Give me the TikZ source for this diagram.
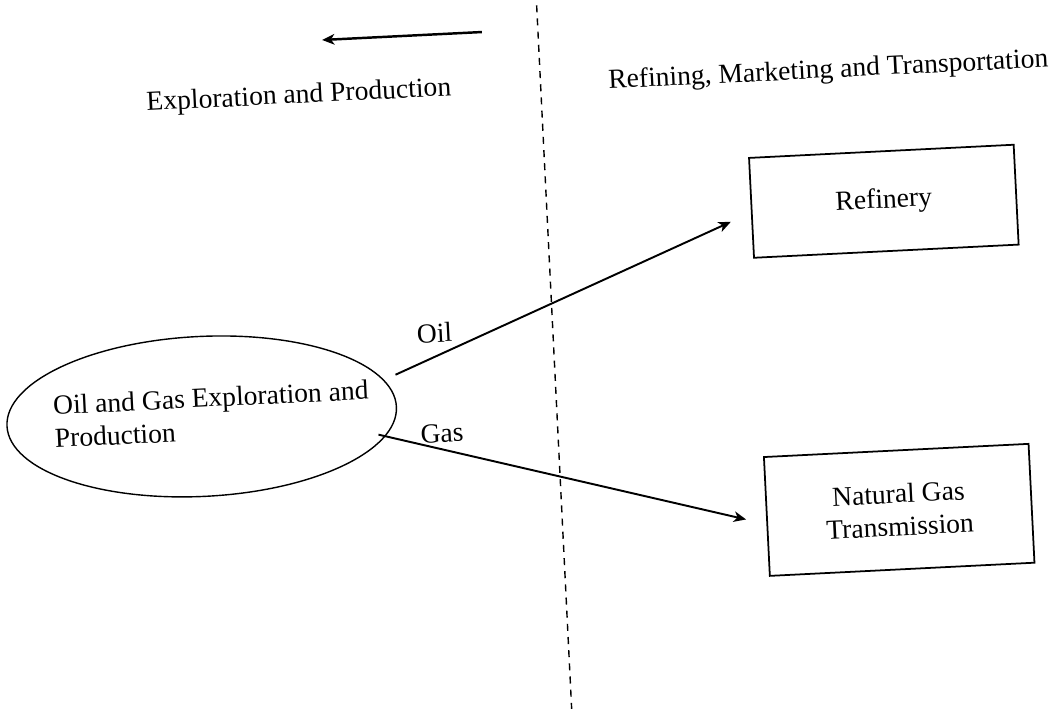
\documentclass[tikz,border=0pt]{standalone}
\usepackage{fontspec}
\setmainfont{Liberation Serif}
\usetikzlibrary{arrows.meta,shapes.geometric,positioning}

\begin{document}
\begin{tikzpicture}[x=0.02cm,y=-0.02cm,font=\fontsize{15.7}{18.8}\selectfont]
  \tikzset{unit/.style = {draw, line width=1pt, minimum width=5.3cm, inner sep=2pt, align=center}}
  \tikzset{field/.style = {draw, ellipse, line width=0.8pt, minimum width=7.8cm, minimum height=3.2cm}}
  \tikzset{header/.style = {anchor=base, inner sep=0pt}}
  \tikzset{flow/.style = {-{Stealth[length=7pt,width=6pt,inset=2pt]}, line width=1.1pt}}
  \tikzset{divider/.style = {line width=0.8pt, dash pattern=on 4pt off 3.5pt}}

\clip (0,0) rectangle (1061,708);
% the scanned page sits a little turned
\begin{scope}[rotate around={2.85:(530.5,354)}, transform shape]

\node[header] (ep)  at (312,92) {Exploration and Production};
\node[header] (rmt) at (842,93) {Refining, Marketing and Transportation};

\node[field] (eap) at (199,400) {};
\node[align=left] (eaptext) at (209,398) {Oil and Gas Exploration and\\Production};

\node[unit, minimum height=2cm] (refinery) at (891,219) {Refinery};
\node[unit, minimum height=2.38cm] (ngt) at (891,528) {Natural Gas\\Transmission};

\coordinate (divtop) at (554,6);
\coordinate (divbot) at (554,740);
\draw[divider] (divtop) -- (divbot);

\coordinate (uptail) at (498,30);
\coordinate (uphead) at (338,30);
\draw[flow, line width=1.4pt] (uptail) -- (uphead);

  \path ([yshift=0.64cm]eap.east) edge[flow] node [pos=0.12, above=4pt]{Oil} ([xshift=-0.41cm,yshift=-0.26cm]refinery.west);
  \path ([xshift=-0.4cm,yshift=-0.54cm]eap.east) edge[flow] node [pos=0.175, above]{Gas} ([xshift=-0.4cm,yshift=-0.04cm]ngt.west);

\end{scope}
\end{tikzpicture}
\end{document}
